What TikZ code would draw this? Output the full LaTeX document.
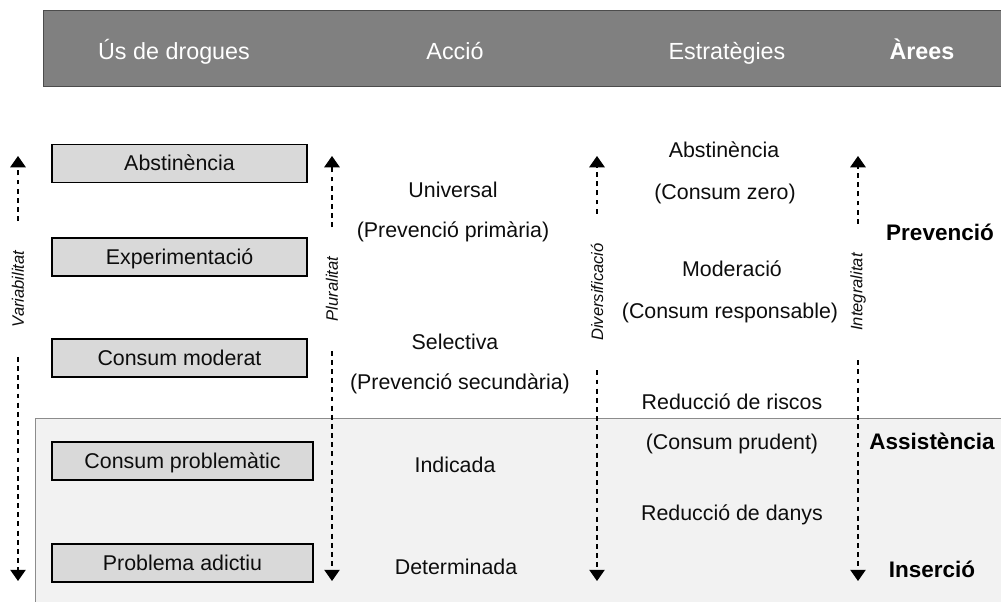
\documentclass[tikz,border=0pt]{standalone}
\usepackage{fontspec}
\setmainfont{Liberation Sans}
\usepackage{tikz}
\usetikzlibrary{arrows.meta}
\usepackage{color}
\colorlet{myhead}{black!50}
\colorlet{myshade}{black!5}
\colorlet{mybox}{black!15}
\colorlet{myink}{black!95}

\begin{document}
\begin{tikzpicture}[x=0.025cm,y=-0.025cm,
	txt/.style={text=myink,font=\fontsize{15.2}{18}\selectfont,text height=12pt,text depth=2pt},
	usebox/.style={txt,draw=black,line width=0.9pt,fill=mybox,minimum height=0.95cm},
	head/.style={text=white,font=\fontsize{16.6}{20}\selectfont,text height=12pt,text depth=2pt},
	area/.style={text=black,font=\fontsize{16}{19}\selectfont\bfseries,text height=12pt,text depth=2pt},
	axislab/.style={rotate=90,inner sep=0pt,outer xsep=21pt,text=myink,font=\fontsize{11.8}{14}\selectfont\itshape},
	flow/.style={-{Triangle[width=11pt,length=8pt]},dash pattern=on 3.5pt off 3pt,line width=0.8pt}]
		\useasboundingbox (0,0) rectangle (1001,601);
		
		% assistencia area
		\draw[fill=myshade,draw=black!45] (35,418) rectangle (1004,604);
		
		% header bar
		\draw[fill=myhead,draw=black!70] (43,10) rectangle (1004,86);
		\node[head] (hus) at (174,52) {Ús de drogues};
		\node[head] (hacc) at (455,52) {Acció};
		\node[head] (hest) at (727,52) {Estratègies};
		\node[head,font=\fontsize{16.6}{20}\selectfont\bfseries] (hare) at (922,52) {Àrees};
		
		% drug use boxes
		\node[usebox,minimum width=6.375cm] (abst) at (179.5,163.5) {Abstinència};
		\node[usebox,minimum width=6.375cm] (expe) at (179.5,257) {Experimentació};
		\node[usebox,minimum width=6.375cm] (mode) at (179.5,358) {Consum moderat};
		\node[usebox,minimum width=6.525cm] (prob) at (182.5,461) {Consum problemàtic};
		\node[usebox,minimum width=6.525cm] (adic) at (182.5,563) {Problema adictiu};
		
		% vertical axes
		\coordinate (vartop) at (18,156);  \coordinate (varbot) at (18,581);
		\coordinate (plutop) at (332,156); \coordinate (plubot) at (332,581);
		\coordinate (divtop) at (597,156); \coordinate (divbot) at (597,581);
		\coordinate (inttop) at (858,156); \coordinate (intbot) at (858,581);
		\node[axislab] (varlab) at (18,289) {Variabilitat};
		\node[axislab] (plulab) at (332,289) {Pluralitat};
		\node[axislab] (divlab) at (597,292) {Diversificació};
		\node[axislab] (intlab) at (858,292) {Integralitat};
		\draw[flow] (varlab) -- (vartop); \draw[flow] (varlab) -- (varbot);
		\draw[flow] (plulab) -- (plutop); \draw[flow] (plulab) -- (plubot);
		\draw[flow] (divlab) -- (divtop); \draw[flow] (divlab) -- (divbot);
		\draw[flow] (intlab) -- (inttop); \draw[flow] (intlab) -- (intbot);
		
		% action column
		\node[txt] (univ) at (453,190) {Universal};
		\node[txt] (prim) at (453,230) {(Prevenció primària)};
		\node[txt] (sele) at (455,342) {Selectiva};
		\node[txt] (secu) at (460,382) {(Prevenció secundària)};
		\node[txt] (indi) at (455,465) {Indicada};
		\node[txt] (dete) at (456,567) {Determinada};
		
		% strategy column
		\node[txt] (sabs) at (724,150) {Abstinència};
		\node[txt] (zero) at (725,192) {(Consum zero)};
		\node[txt] (smod) at (732,269) {Moderació};
		\node[txt] (resp) at (730,311) {(Consum responsable)};
		\node[txt] (risc) at (732,402) {Reducció de riscos};
		\node[txt] (prud) at (732,442) {(Consum prudent)};
		\node[txt] (dany) at (732,513) {Reducció de danys};
		
		% areas
		\node[area] (prev) at (940,233) {Prevenció};
		\node[area] (assi) at (932,442) {Assistència};
		\node[area] (inse) at (932,570) {Inserció};
	\end{tikzpicture}
\end{document}
